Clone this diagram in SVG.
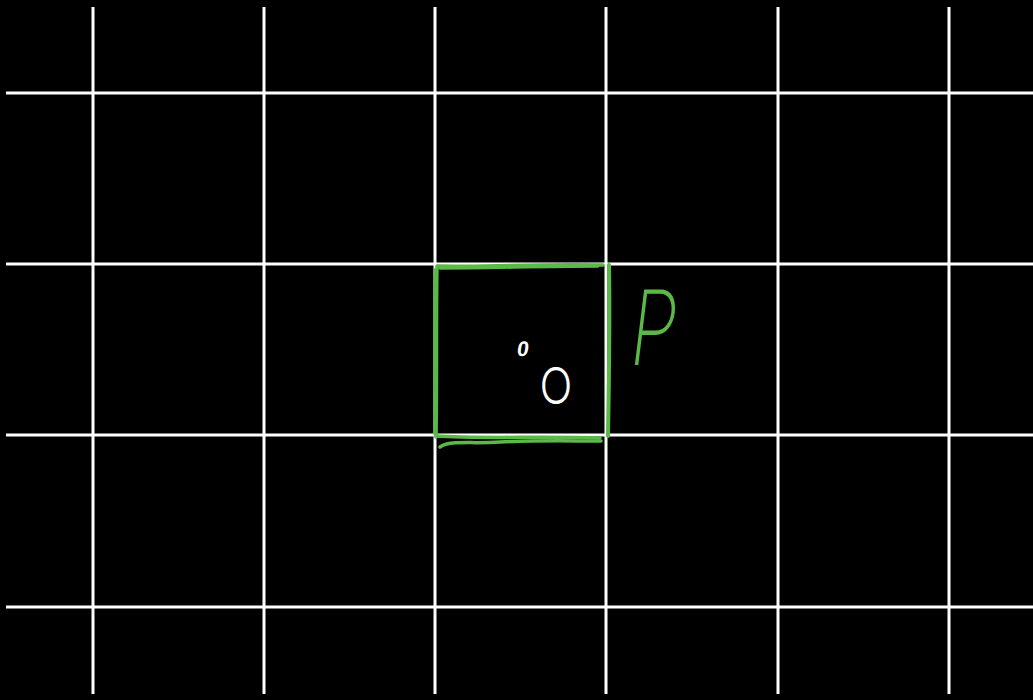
<svg xmlns="http://www.w3.org/2000/svg" width="1033" height="700" viewBox="0 0 1033 700">
<style>
.grid line{stroke:#ffffff;stroke-width:3;stroke-linecap:butt}
.ink{fill:none;stroke:#5ab947;stroke-width:3.5;stroke-linecap:round;stroke-linejoin:round}
</style>
<rect width="1033" height="700" fill="#000000"/>
<g id="grid" class="grid">
<line x1="93" y1="7" x2="93" y2="694"/>
<line x1="264" y1="7" x2="264" y2="694"/>
<line x1="435" y1="7" x2="435" y2="694"/>
<line x1="606" y1="7" x2="606" y2="694"/>
<line x1="778" y1="7" x2="778" y2="694"/>
<line x1="949" y1="7" x2="949" y2="694"/>
<line x1="6" y1="93" x2="1033" y2="93"/>
<line x1="6" y1="264" x2="1033" y2="264"/>
<line x1="6" y1="435" x2="1033" y2="435"/>
<line x1="6" y1="607" x2="1033" y2="607"/>
</g>
<g id="square" class="ink">
<path d="M438,266 C480,267 520,264 603,265"/>
<path d="M440,268 C490,268 540,266 598,266"/>
<path d="M437,266 C436,320 437,380 436,437"/>
<path d="M435,270 C435,330 435,390 435,434"/>
<path d="M609,265 C610,320 609,380 608,436" style="stroke-width:4"/>
<path d="M436,436 C480,439 540,436 600,438"/>
<path d="M440,447 C450,440 470,444 500,442 C540,440 570,441 601,441"/>
</g>
<g id="label-P">
<text x="-7" y="0" font-family="Inter, 'Liberation Sans', sans-serif" font-weight="200" font-size="104" fill="#5ab947" transform="translate(632,365) skewX(-7) scale(0.72,1)">P</text>
</g>
<g id="marks" fill="#ffffff" font-family="'Liberation Sans', sans-serif">
<text x="0" y="0" font-size="21" font-weight="bold" text-anchor="middle" transform="translate(522,356) skewX(-8)">0</text>
<text x="0" y="0" font-size="51" text-anchor="middle" font-family="Inter, 'Liberation Sans', sans-serif" font-weight="300" transform="translate(556,404) scale(0.85,1)">O</text>
</g>
</svg>
